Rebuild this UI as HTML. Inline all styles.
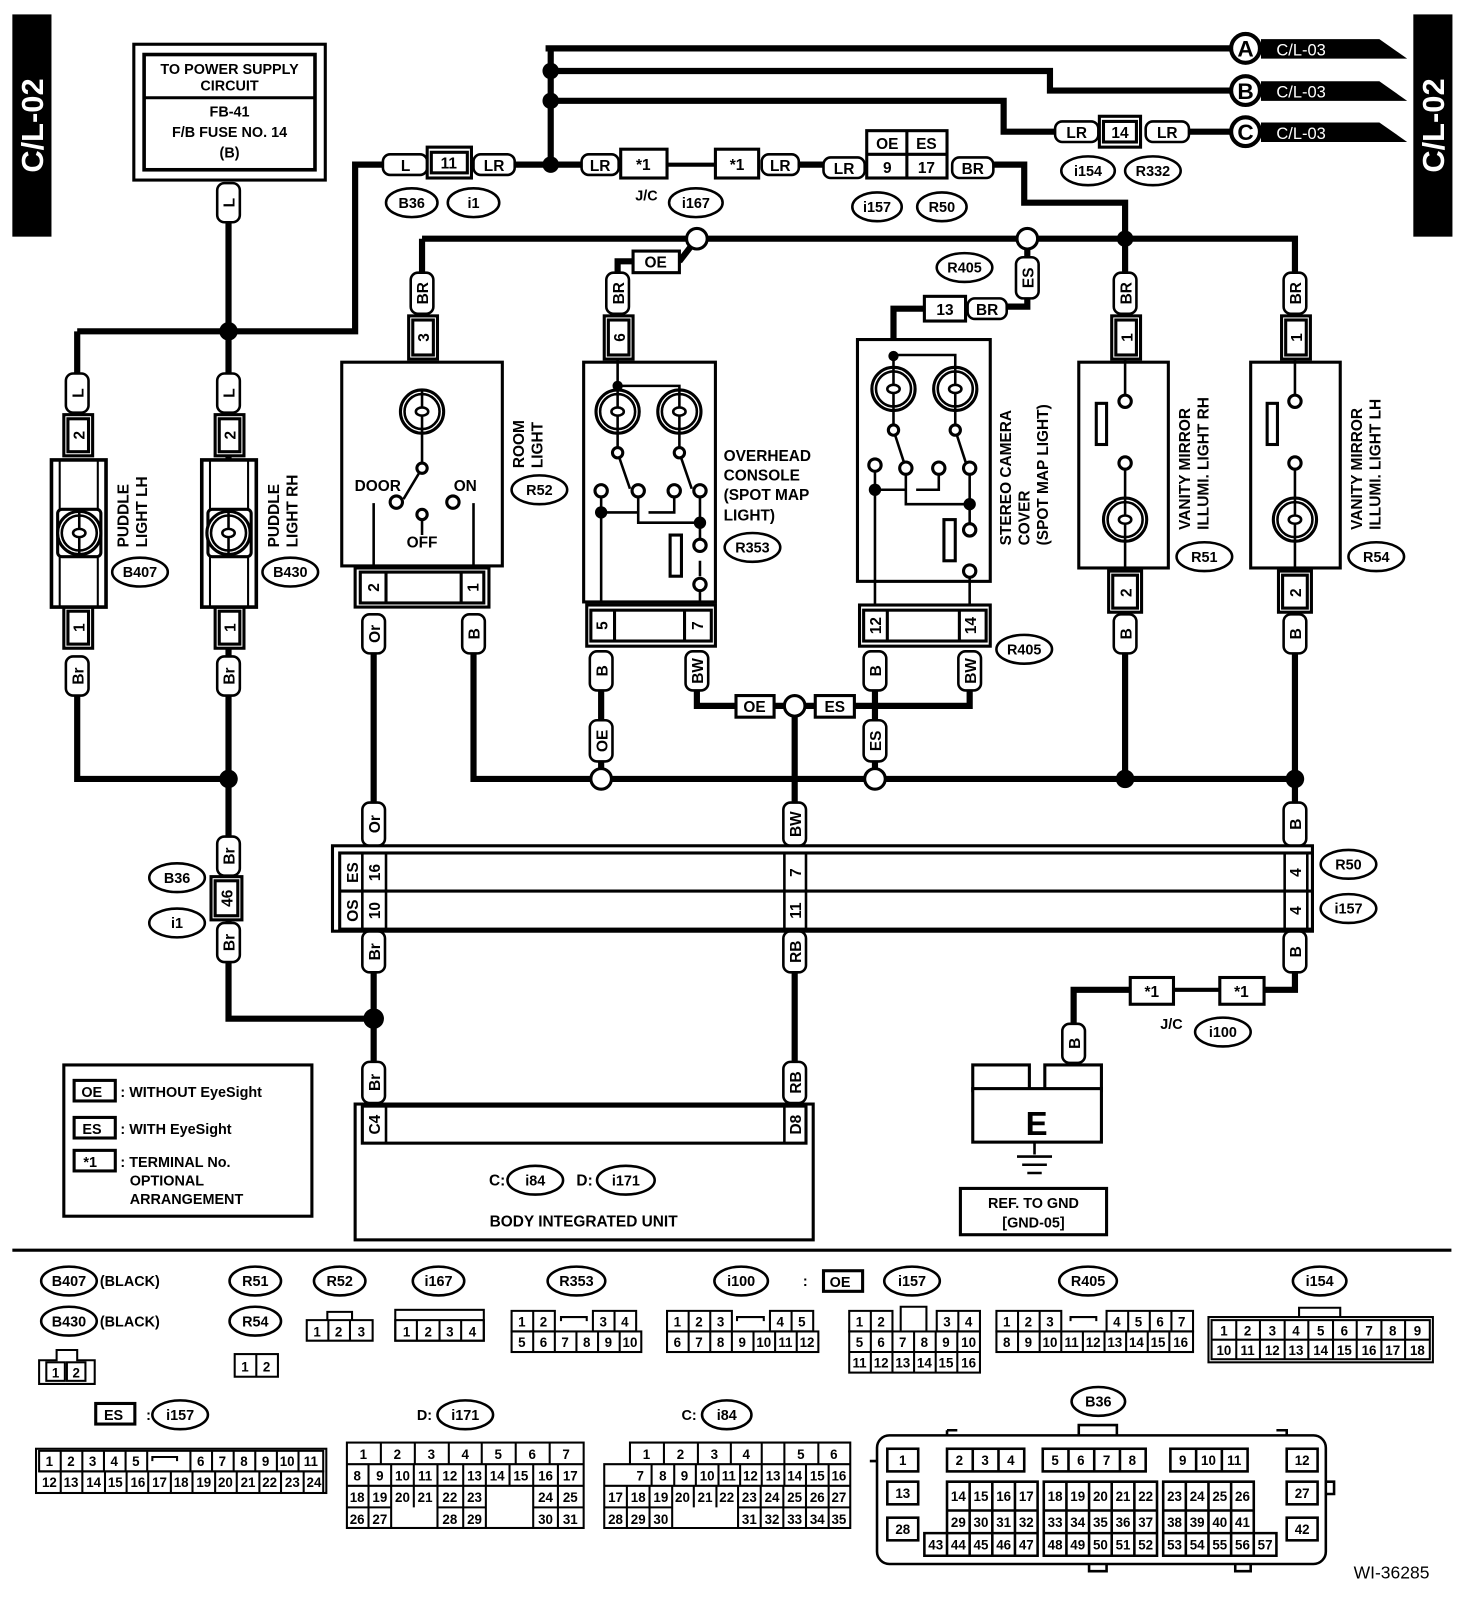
<!DOCTYPE html>
<html><head><meta charset="utf-8"><style>
html,body{margin:0;padding:0;background:#fff}
svg{display:block}
text{font-family:"Liberation Sans",sans-serif;font-weight:bold;fill:#000}
.w{stroke:#000;stroke-width:6;fill:none}
.t{stroke:#000;stroke-width:2.5;fill:none}
.p{stroke:#000;stroke-width:2.5;fill:#fff}
.b{stroke:#000;stroke-width:3;fill:#fff}
.f{font-size:15px}
.s{font-size:14px}
.n{font-size:13px;font-weight:normal}
</style></head><body>
<svg width="1472" height="1600" viewBox="0 0 1430 1555" preserveAspectRatio="none" xmlns="http://www.w3.org/2000/svg">
<defs>
<g id="lamp"><circle r="21" class="b"/><circle r="17" class="t"/><ellipse rx="6" ry="4" class="t"/><path d="M0 -21 V-4 M0 4 V21" class="t"/></g>
</defs>

<!-- side bars -->
<rect x="12" y="14" width="38" height="216" fill="#000"/>
<text transform="translate(42,122) rotate(-90)" text-anchor="middle" fill="#fff" style="fill:#fff;font-size:30px">C/L-02</text>
<rect x="1373" y="14" width="38" height="216" fill="#000"/>
<text transform="translate(1403,122) rotate(-90)" text-anchor="middle" style="fill:#fff;font-size:30px">C/L-02</text>

<!-- power box -->
<rect x="130" y="43" width="186" height="132" class="b"/>
<rect x="140" y="53" width="166" height="112" class="b" style="stroke-width:3.5"/>
<line x1="140" y1="95" x2="306" y2="95" class="b"/>
<text x="223" y="72" text-anchor="middle" class="s">TO POWER SUPPLY</text>
<text x="223" y="88" text-anchor="middle" class="s">CIRCUIT</text>
<text x="223" y="113" text-anchor="middle" class="s">FB-41</text>
<text x="223" y="133" text-anchor="middle" class="s">F/B FUSE NO. 14</text>
<text x="223" y="153" text-anchor="middle" class="s">(B)</text>

<!-- WIRES -->
<path class="w" d="M222 215 V990 M75 322 H345 V160 H372 M75 322 V365 M75 675 V757 H222 M222 935 V990 H363"/>
<path class="w" d="M500 160 H565 M535 47 V160 M530 47 H1195 M535 69 H1020 V88 H1195 M535 98 H975 V128 H1025 M1155 128 H1195"/>
<path class="w" d="M775 160 H800 M965 160 H995 V197 H1093 V232 M410 232 H1258 V265 M410 232 V265 M677 232 L660 254 M620 254 H600 V265 M998 232 V250 M998 290 V298 H978 M900 300 H868 V345 M1093 232 V265"/>
<path class="w" d="M363 635 V780 M460 635 V757 H1258 M584 670 V700 M584 740 V757 M677 670 V686 H715 M752 686 H792 M830 686 H942 V670 M850 670 V700 M850 740 V757 M772 686 V780 M1093 635 V757 M1258 635 V780"/>
<path class="w" d="M363 945 V1032 M772 945 V1032 M1258 945 V962 H1228 M1098 962 H1043 V995"/>
<path class="t" d="M648 160 H695 M1140 962 H1185" style="stroke-width:4"/>

<!-- junction dots -->
<g fill="#000"><circle cx="535" cy="69" r="8"/><circle cx="535" cy="98" r="8"/><circle cx="535" cy="160" r="8"/><circle cx="222" cy="322" r="9"/><circle cx="222" cy="757" r="9"/><circle cx="1093" cy="232" r="8"/><circle cx="1093" cy="757" r="9"/><circle cx="1258" cy="757" r="9"/><circle cx="363" cy="990" r="10"/></g>
<g class="b"><circle cx="677" cy="232" r="10"/><circle cx="998" cy="232" r="10"/><circle cx="772" cy="686" r="10"/><circle cx="584" cy="757" r="10"/><circle cx="850" cy="757" r="10"/></g>

<!-- A B C -->
<g><path d="M1225 38 H1340 L1367 57 H1225 Z M1225 79 H1340 L1367 98 H1225 Z M1225 119 H1340 L1367 138 H1225 Z" fill="#000"/>
<circle cx="1210" cy="47" r="14" class="b" style="stroke-width:4"/><circle cx="1210" cy="88" r="14" class="b" style="stroke-width:4"/><circle cx="1210" cy="128" r="14" class="b" style="stroke-width:4"/>
<text x="1210" y="55" text-anchor="middle" style="font-size:22px">A</text><text x="1210" y="96" text-anchor="middle" style="font-size:22px">B</text><text x="1210" y="136" text-anchor="middle" style="font-size:22px">C</text>
<text x="1240" y="54" style="fill:#fff;font-size:16px;font-weight:normal">C/L-03</text><text x="1240" y="95" style="fill:#fff;font-size:16px;font-weight:normal">C/L-03</text><text x="1240" y="135" style="fill:#fff;font-size:16px;font-weight:normal">C/L-03</text></g>

<!-- horizontal pills -->
<g class="p">
<rect x="372" y="150" width="43" height="20" rx="7"/><rect x="460" y="150" width="40" height="20" rx="7"/>
<rect x="565" y="150" width="36" height="20" rx="7"/><rect x="740" y="150" width="36" height="20" rx="7"/>
<rect x="800" y="153" width="40" height="20" rx="7"/><rect x="925" y="153" width="40" height="20" rx="7"/>
<rect x="1025" y="118" width="42" height="20" rx="7"/><rect x="1113" y="118" width="42" height="20" rx="7"/>
<rect x="940" y="290" width="38" height="20" rx="7"/>
</g>
<g class="b">
<rect x="415" y="143" width="43" height="30"/><rect x="419" y="148" width="35" height="20"/>
<rect x="603" y="145" width="45" height="28"/><rect x="695" y="145" width="42" height="28"/>
<rect x="842" y="127" width="78" height="46"/><line x1="842" y1="150" x2="920" y2="150"/><line x1="881" y1="127" x2="881" y2="173"/>
<rect x="1068" y="113" width="40" height="30"/><rect x="1072" y="118" width="32" height="20"/>
<rect x="615" y="244" width="45" height="21"/><rect x="898" y="288" width="40" height="24"/>
<rect x="715" y="676" width="37" height="21"/><rect x="792" y="676" width="38" height="21"/>
<rect x="1098" y="950" width="42" height="26"/><rect x="1185" y="950" width="43" height="26"/>
</g>
<g class="f" text-anchor="middle">
<text x="394" y="166">L</text><text x="436" y="164">11</text><text x="480" y="166">LR</text>
<text x="583" y="166">LR</text><text x="625" y="165">*1</text><text x="716" y="165">*1</text><text x="758" y="166">LR</text>
<text x="820" y="169">LR</text><text x="862" y="145">OE</text><text x="900" y="145">ES</text><text x="862" y="168">9</text><text x="900" y="168">17</text><text x="945" y="169">BR</text>
<text x="1046" y="134">LR</text><text x="1088" y="134">14</text><text x="1134" y="134">LR</text>
<text x="637" y="260">OE</text><text x="918" y="306">13</text><text x="959" y="306">BR</text>
<text x="733" y="692">OE</text><text x="811" y="692">ES</text>
<text x="1119" y="969">*1</text><text x="1206" y="969">*1</text>
<text x="628" y="195" class="s">J/C</text><text x="1138" y="1000" class="s">J/C</text>
</g>

<!-- vertical pills -->
<g class="p">
<rect x="211" y="178" width="22" height="38" rx="7"/>
<rect x="64" y="363" width="22" height="38" rx="7"/><rect x="211" y="363" width="22" height="38" rx="7"/>
<rect x="64" y="638" width="22" height="38" rx="7"/><rect x="211" y="638" width="22" height="38" rx="7"/>
<rect x="211" y="813" width="22" height="38" rx="7"/><rect x="211" y="897" width="22" height="38" rx="7"/>
<rect x="399" y="265" width="22" height="40" rx="7"/><rect x="589" y="265" width="22" height="40" rx="7"/>
<rect x="987" y="250" width="22" height="40" rx="7"/>
<rect x="1082" y="265" width="22" height="40" rx="7"/><rect x="1247" y="265" width="22" height="40" rx="7"/>
<rect x="352" y="597" width="22" height="38" rx="7"/><rect x="449" y="597" width="22" height="38" rx="7"/>
<rect x="573" y="633" width="22" height="38" rx="7"/><rect x="666" y="633" width="22" height="38" rx="7"/>
<rect x="839" y="633" width="22" height="38" rx="7"/><rect x="931" y="633" width="22" height="38" rx="7"/>
<rect x="573" y="700" width="22" height="40" rx="7"/><rect x="839" y="700" width="22" height="40" rx="7"/>
<rect x="1082" y="597" width="22" height="38" rx="7"/><rect x="1247" y="597" width="22" height="38" rx="7"/>
<rect x="352" y="780" width="22" height="42" rx="7"/><rect x="761" y="780" width="22" height="42" rx="7"/><rect x="1247" y="780" width="22" height="42" rx="7"/>
<rect x="352" y="905" width="22" height="40" rx="7"/><rect x="761" y="905" width="22" height="40" rx="7"/><rect x="1247" y="905" width="22" height="40" rx="7"/>
<rect x="352" y="1032" width="22" height="40" rx="7"/><rect x="761" y="1032" width="22" height="40" rx="7"/>
<rect x="1032" y="995" width="22" height="38" rx="7"/>
</g>
<g class="f" text-anchor="middle">
<text transform="translate(228,197) rotate(-90)">L</text>
<text transform="translate(81,382) rotate(-90)">L</text><text transform="translate(228,382) rotate(-90)">L</text>
<text transform="translate(81,657) rotate(-90)">Br</text><text transform="translate(228,657) rotate(-90)">Br</text>
<text transform="translate(228,832) rotate(-90)">Br</text><text transform="translate(228,916) rotate(-90)">Br</text>
<text transform="translate(416,285) rotate(-90)">BR</text><text transform="translate(606,285) rotate(-90)">BR</text>
<text transform="translate(1004,270) rotate(-90)">ES</text>
<text transform="translate(1099,285) rotate(-90)">BR</text><text transform="translate(1264,285) rotate(-90)">BR</text>
<text transform="translate(369,616) rotate(-90)">Or</text><text transform="translate(466,616) rotate(-90)">B</text>
<text transform="translate(590,652) rotate(-90)">B</text><text transform="translate(683,652) rotate(-90)">BW</text>
<text transform="translate(856,652) rotate(-90)">B</text><text transform="translate(948,652) rotate(-90)">BW</text>
<text transform="translate(590,720) rotate(-90)">OE</text><text transform="translate(856,720) rotate(-90)">ES</text>
<text transform="translate(1099,616) rotate(-90)">B</text><text transform="translate(1264,616) rotate(-90)">B</text>
<text transform="translate(369,801) rotate(-90)">Or</text><text transform="translate(778,801) rotate(-90)">BW</text><text transform="translate(1264,801) rotate(-90)">B</text>
<text transform="translate(369,925) rotate(-90)">Br</text><text transform="translate(778,925) rotate(-90)">RB</text><text transform="translate(1264,925) rotate(-90)">B</text>
<text transform="translate(369,1052) rotate(-90)">Br</text><text transform="translate(778,1052) rotate(-90)">RB</text>
<text transform="translate(1049,1014) rotate(-90)">B</text>
</g>

<!-- vertical connector boxes -->
<g class="b">
<rect x="62" y="403" width="28" height="40"/><rect x="66" y="407" width="20" height="32"/>
<rect x="209" y="403" width="28" height="40"/><rect x="213" y="407" width="20" height="32"/>
<rect x="62" y="590" width="28" height="40"/><rect x="66" y="594" width="20" height="32"/>
<rect x="209" y="590" width="28" height="40"/><rect x="213" y="594" width="20" height="32"/>
<rect x="205" y="852" width="30" height="42"/><rect x="209" y="856" width="22" height="34"/>
<rect x="397" y="307" width="28" height="42"/><rect x="401" y="311" width="20" height="34"/>
<rect x="587" y="307" width="28" height="42"/><rect x="591" y="311" width="20" height="34"/>
<rect x="1080" y="307" width="28" height="42"/><rect x="1084" y="311" width="20" height="34"/>
<rect x="1245" y="307" width="28" height="42"/><rect x="1249" y="311" width="20" height="34"/>
</g>
<g class="f" text-anchor="middle">
<text transform="translate(82,423) rotate(-90)">2</text><text transform="translate(229,423) rotate(-90)">2</text>
<text transform="translate(82,610) rotate(-90)">1</text><text transform="translate(229,610) rotate(-90)">1</text>
<text transform="translate(226,873) rotate(-90)">46</text>
<text transform="translate(417,328) rotate(-90)">3</text><text transform="translate(607,328) rotate(-90)">6</text>
<text transform="translate(1100,328) rotate(-90)">1</text><text transform="translate(1265,328) rotate(-90)">1</text>
</g>

<!-- puddle lights -->
<g class="b" style="stroke-width:3.5">
<rect x="50" y="447" width="53" height="143"/><rect x="196" y="447" width="53" height="143"/>
</g>
<path class="t" d="M58 447 V590 M95 447 V590 M204 447 V590 M241 447 V590" style="stroke-width:2"/>
<g class="b"><rect x="56" y="495" width="42" height="46" rx="4"/><rect x="202" y="495" width="42" height="46" rx="4"/></g>
<use href="#lamp" x="77" y="518"/><use href="#lamp" x="222" y="518"/>
<g class="f"><text transform="translate(125,532) rotate(-90)">PUDDLE</text><text transform="translate(143,532) rotate(-90)">LIGHT LH</text>
<text transform="translate(271,532) rotate(-90)">PUDDLE</text><text transform="translate(289,532) rotate(-90)">LIGHT RH</text></g>

<!-- room light -->
<rect x="332" y="352" width="156" height="198" class="b"/>
<use href="#lamp" x="410" y="400"/>
<path class="t" d="M410 421 V455 L392 485 M410 497 V520 M363 489 V550 M460 489 V550"/>
<g class="b"><circle cx="385" cy="488" r="6"/><circle cx="440" cy="488" r="6"/><circle cx="410" cy="500" r="5"/><circle cx="410" cy="455" r="5"/></g>
<text x="367" y="477" text-anchor="middle" class="f">DOOR</text><text x="452" y="477" text-anchor="middle" class="f">ON</text><text x="410" y="532" text-anchor="middle" class="f">OFF</text>
<g class="f"><text transform="translate(509,455) rotate(-90)">ROOM</text><text transform="translate(527,455) rotate(-90)">LIGHT</text></g>
<g class="b"><rect x="345" y="552" width="130" height="38"/><rect x="350" y="556" width="120" height="30"/><line x1="375" y1="556" x2="375" y2="586"/><line x1="448" y1="556" x2="448" y2="586"/></g>
<text transform="translate(368,571) rotate(-90)" text-anchor="middle" class="f">2</text><text transform="translate(465,571) rotate(-90)" text-anchor="middle" class="f">1</text>

<!-- overhead console -->
<rect x="567" y="352" width="128" height="233" class="b"/>
<path class="t" d="M600 349 V378 M600 375 H660 V378 M600 421 V440 L612 475 M660 421 V440 L672 475 M584 477 V585 M584 498 H620 M630 498 H655 V477 M620 477 V508 H680 V525 M680 480 V508 M680 545 V560 M680 575 V585"/>
<circle cx="600" cy="375" r="5" fill="#000"/><circle cx="584" cy="498" r="6" fill="#000"/><circle cx="680" cy="508" r="6" fill="#000"/>
<use href="#lamp" x="600" y="400"/><use href="#lamp" x="660" y="400"/>
<g class="b"><circle cx="600" cy="440" r="5"/><circle cx="660" cy="440" r="5"/><circle cx="584" cy="477" r="6"/><circle cx="620" cy="477" r="6"/><circle cx="655" cy="477" r="6"/><circle cx="680" cy="477" r="6"/><circle cx="680" cy="530" r="6"/><circle cx="680" cy="568" r="6"/><rect x="651" y="520" width="11" height="40"/></g>
<g class="f"><text x="703" y="448">OVERHEAD</text><text x="703" y="467">CONSOLE</text><text x="703" y="486">(SPOT MAP</text><text x="703" y="506"> LIGHT)</text></g>
<g class="b"><rect x="570" y="588" width="125" height="40"/><rect x="574" y="593" width="117" height="30"/><line x1="597" y1="593" x2="597" y2="623"/><line x1="665" y1="593" x2="665" y2="623"/></g>
<text transform="translate(590,608) rotate(-90)" text-anchor="middle" class="f">5</text><text transform="translate(683,608) rotate(-90)" text-anchor="middle" class="f">7</text>

<!-- stereo camera -->
<rect x="833" y="330" width="129" height="235" class="b"/>
<path class="t" d="M868 345 H928 V356 M868 356 V345 M868 400 V418 L880 455 M928 400 V418 L940 455 M850 452 V588 M850 476 H880 M890 476 H912 V455 M880 455 V490 H942 V510 M942 455 V490 M942 560 V588"/>
<circle cx="868" cy="346" r="5" fill="#000"/><circle cx="850" cy="476" r="6" fill="#000"/><circle cx="942" cy="490" r="6" fill="#000"/>
<use href="#lamp" x="868" y="378"/><use href="#lamp" x="928" y="378"/>
<g class="b"><circle cx="868" cy="418" r="5"/><circle cx="928" cy="418" r="5"/><circle cx="850" cy="452" r="6"/><circle cx="880" cy="455" r="6"/><circle cx="912" cy="455" r="6"/><circle cx="942" cy="455" r="6"/><circle cx="942" cy="515" r="6"/><circle cx="942" cy="555" r="6"/><rect x="917" y="505" width="11" height="40"/></g>
<g class="f"><text transform="translate(982,530) rotate(-90)">STEREO CAMERA</text><text transform="translate(1000,530) rotate(-90)">COVER</text><text transform="translate(1018,530) rotate(-90)">(SPOT MAP LIGHT)</text></g>
<g class="b"><rect x="835" y="588" width="127" height="40"/><rect x="839" y="593" width="119" height="30"/><line x1="862" y1="593" x2="862" y2="623"/><line x1="932" y1="593" x2="932" y2="623"/></g>
<text transform="translate(856,608) rotate(-90)" text-anchor="middle" class="f">12</text><text transform="translate(948,608) rotate(-90)" text-anchor="middle" class="f">14</text>

<!-- vanity -->
<rect x="1048" y="352" width="87" height="200" class="b"/>
<rect x="1215" y="352" width="87" height="200" class="b"/>
<path class="t" d="M1093 349 V384 M1093 455 V484 M1258 349 V384 M1258 455 V484 M1093 527 V555 M1258 527 V555"/>
<g class="b"><circle cx="1093" cy="390" r="6"/><circle cx="1093" cy="450" r="6"/><rect x="1065" y="392" width="10" height="40"/><circle cx="1258" cy="390" r="6"/><circle cx="1258" cy="450" r="6"/><rect x="1231" y="392" width="10" height="40"/></g>
<use href="#lamp" x="1093" y="505"/><use href="#lamp" x="1258" y="505"/>
<g class="f"><text transform="translate(1156,515) rotate(-90)">VANITY MIRROR</text><text transform="translate(1174,515) rotate(-90)">ILLUMI. LIGHT RH</text>
<text transform="translate(1323,515) rotate(-90)">VANITY MIRROR</text><text transform="translate(1341,515) rotate(-90)">ILLUMI. LIGHT LH</text></g>
<g class="b"><rect x="1077" y="555" width="32" height="40"/><rect x="1081" y="559" width="24" height="32"/><rect x="1242" y="555" width="32" height="40"/><rect x="1246" y="559" width="24" height="32"/></g>
<text transform="translate(1099,576) rotate(-90)" text-anchor="middle" class="f">2</text><text transform="translate(1264,576) rotate(-90)" text-anchor="middle" class="f">2</text>

<!-- big connector -->
<rect x="323" y="822" width="952" height="83" class="b"/>
<rect x="330" y="829" width="945" height="74" class="b"/>
<line x1="330" y1="866" x2="1275" y2="866" class="t" style="stroke-width:3"/>
<path class="t" d="M352 829 V903 M375 829 V903 M762 829 V903 M783 829 V903 M1248 829 V903 M1270 829 V903" style="stroke-width:2.5"/>
<g class="f" text-anchor="middle">
<text transform="translate(348,848) rotate(-90)">ES</text><text transform="translate(369,848) rotate(-90)">16</text>
<text transform="translate(348,885) rotate(-90)">OS</text><text transform="translate(369,885) rotate(-90)">10</text>
<text transform="translate(778,848) rotate(-90)">7</text><text transform="translate(778,885) rotate(-90)">11</text>
<text transform="translate(1264,848) rotate(-90)">4</text><text transform="translate(1264,885) rotate(-90)">4</text>
</g>

<!-- BIU -->
<rect x="345" y="1073" width="445" height="132" class="b"/>
<rect x="352" y="1075" width="431" height="36" class="b"/>
<path class="t" d="M375 1075 V1111 M762 1075 V1111"/>
<text transform="translate(369,1093) rotate(-90)" text-anchor="middle" class="f">C4</text>
<text transform="translate(778,1093) rotate(-90)" text-anchor="middle" class="f">D8</text>
<text x="475" y="1152" class="f">C:</text><text x="560" y="1152" class="f">D:</text>
<text x="567" y="1192" text-anchor="middle" class="f">BODY INTEGRATED UNIT</text>

<!-- ground -->
<path d="M945 1035 H1000 V1060 H945 Z M1015 1035 H1070 V1060 H1015 Z" class="b"/>
<rect x="945" y="1058" width="125" height="52" class="b"/>
<text x="1007" y="1103" text-anchor="middle" style="font-size:32px">E</text>
<path class="t" d="M1005 1110 V1122 M988 1124 H1022 M993 1132 H1017 M998 1140 H1012"/>
<rect x="933" y="1155" width="142" height="45" class="b"/>
<text x="1004" y="1174" text-anchor="middle" class="s">REF. TO GND</text><text x="1004" y="1193" text-anchor="middle" class="s">[GND-05]</text>

<!-- legend -->
<rect x="62" y="1035" width="241" height="147" class="b"/>
<g class="b"><rect x="72" y="1050" width="40" height="20"/><rect x="72" y="1086" width="40" height="20"/><rect x="72" y="1118" width="40" height="20"/></g>
<g class="s"><text x="79" y="1066">OE</text><text x="80" y="1102">ES</text><text x="81" y="1134">*1</text>
<text x="117" y="1066">: WITHOUT EyeSight</text><text x="117" y="1102">: WITH EyeSight</text><text x="117" y="1134">: TERMINAL No.</text><text x="126" y="1152">OPTIONAL</text><text x="126" y="1170">ARRANGEMENT</text></g>

<!-- ovals -->
<g class="b" style="stroke-width:2.5">
<ellipse cx="400" cy="197" rx="25" ry="14"/><ellipse cx="460" cy="197" rx="25" ry="14"/><ellipse cx="676" cy="197" rx="26" ry="14"/>
<ellipse cx="852" cy="201" rx="24" ry="14"/><ellipse cx="915" cy="201" rx="24" ry="14"/><ellipse cx="1057" cy="166" rx="26" ry="14"/><ellipse cx="1120" cy="166" rx="27" ry="14"/>
<ellipse cx="937" cy="260" rx="27" ry="14"/><ellipse cx="524" cy="476" rx="27" ry="14"/><ellipse cx="136" cy="556" rx="27" ry="14"/><ellipse cx="282" cy="556" rx="27" ry="14"/>
<ellipse cx="731" cy="532" rx="27" ry="14"/><ellipse cx="995" cy="631" rx="27" ry="14"/><ellipse cx="1170" cy="541" rx="27" ry="14"/><ellipse cx="1337" cy="541" rx="27" ry="14"/>
<ellipse cx="1310" cy="840" rx="27" ry="14"/><ellipse cx="1310" cy="883" rx="27" ry="14"/><ellipse cx="172" cy="853" rx="27" ry="14"/><ellipse cx="172" cy="897" rx="27" ry="14"/>
<ellipse cx="1188" cy="1003" rx="27" ry="14"/><ellipse cx="520" cy="1147" rx="27" ry="14"/><ellipse cx="608" cy="1147" rx="28" ry="14"/>
<ellipse cx="67" cy="1245" rx="27" ry="14"/><ellipse cx="67" cy="1284" rx="27" ry="14"/><ellipse cx="248" cy="1245" rx="25" ry="14"/><ellipse cx="248" cy="1284" rx="25" ry="14"/>
<ellipse cx="330" cy="1245" rx="25" ry="14"/><ellipse cx="426" cy="1245" rx="25" ry="14"/><ellipse cx="560" cy="1245" rx="28" ry="14"/><ellipse cx="720" cy="1245" rx="26" ry="14"/>
<ellipse cx="886" cy="1245" rx="27" ry="14"/><ellipse cx="1057" cy="1245" rx="28" ry="14"/><ellipse cx="1282" cy="1245" rx="26" ry="14"/>
<ellipse cx="175" cy="1375" rx="27" ry="14"/><ellipse cx="452" cy="1375" rx="27" ry="14"/><ellipse cx="706" cy="1375" rx="24" ry="14"/><ellipse cx="1067" cy="1362" rx="26" ry="14"/>
</g>
<g class="s" text-anchor="middle">
<text x="400" y="202">B36</text><text x="460" y="202">i1</text><text x="676" y="202">i167</text><text x="852" y="206">i157</text><text x="915" y="206">R50</text><text x="1057" y="171">i154</text><text x="1120" y="171">R332</text>
<text x="937" y="265">R405</text><text x="524" y="481">R52</text><text x="136" y="561">B407</text><text x="282" y="561">B430</text><text x="731" y="537">R353</text><text x="995" y="636">R405</text>
<text x="1170" y="546">R51</text><text x="1337" y="546">R54</text><text x="1310" y="845">R50</text><text x="1310" y="888">i157</text><text x="172" y="858">B36</text><text x="172" y="902">i1</text>
<text x="1188" y="1008">i100</text><text x="520" y="1152">i84</text><text x="608" y="1152">i171</text>
<text x="67" y="1250">B407</text><text x="67" y="1289">B430</text><text x="248" y="1250">R51</text><text x="248" y="1289">R54</text><text x="330" y="1250">R52</text><text x="426" y="1250">i167</text>
<text x="560" y="1250">R353</text><text x="720" y="1250">i100</text><text x="886" y="1250">i157</text><text x="1057" y="1250">R405</text><text x="1282" y="1250">i154</text>
<text x="175" y="1380">i157</text><text x="452" y="1380">i171</text><text x="706" y="1380">i84</text><text x="1067" y="1367">B36</text>
</g>

<!-- separator -->
<line x1="12" y1="1215" x2="1410" y2="1215" stroke="#000" stroke-width="3"/>

<!-- bottom connectors -->
<g class="s"><text x="97" y="1250">(BLACK)</text><text x="97" y="1289">(BLACK)</text>
<text x="780" y="1250">:</text><text x="142" y="1380">:</text><text x="405" y="1380">D:</text><text x="662" y="1380">C:</text></g>
<g class="b"><rect x="800" y="1235" width="38" height="20"/><rect x="93" y="1364" width="38" height="20"/></g>
<g class="s"><text x="806" y="1251">OE</text><text x="101" y="1380">ES</text></g>

<g class="t" style="stroke-width:2">
<!-- B407 -->
<path d="M38 1322 H55 V1312 H75 V1322 H92 V1345 H38 Z"/><rect x="45" y="1324" width="18" height="18"/><rect x="65" y="1324" width="18" height="18"/>
<rect x="228" y="1316" width="42" height="22"/><line x1="249" y1="1316" x2="249" y2="1338"/>
<path d="M298 1283 H362 V1303 H298 Z M318 1283 V1275 H342 V1283"/><line x1="319" y1="1283" x2="319" y2="1303"/><line x1="340" y1="1283" x2="340" y2="1303"/>
<rect x="384" y="1273" width="86" height="30"/><rect x="384" y="1283" width="86" height="20"/><path d="M405 1283 V1303 M427 1283 V1303 M448 1283 V1303"/>
</g>
<g class="n" text-anchor="middle"><text x="54" y="1339">1</text><text x="74" y="1339">2</text><text x="238" y="1333">1</text><text x="259" y="1333">2</text>
<text x="308" y="1299">1</text><text x="329" y="1299">2</text><text x="351" y="1299">3</text>
<text x="395" y="1299">1</text><text x="416" y="1299">2</text><text x="437" y="1299">3</text><text x="459" y="1299">4</text></g>

<!-- grid cells via rects -->
<g class="t" style="stroke-width:2">
<!-- R353 -->
<path d="M497 1274 H539 V1294 H497 Z M518 1274 V1294 M576 1274 H618 V1294 H576 Z M597 1274 V1294 M545 1284 V1280 H570 V1284"/>
<rect x="497" y="1294" width="126" height="20"/><path d="M518 1294 V1314 M539 1294 V1314 M560 1294 V1314 M581 1294 V1314 M602 1294 V1314"/>
<!-- i100 -->
<path d="M648 1274 H711 V1294 H648 Z M669 1274 V1294 M690 1274 V1294 M748 1274 H790 V1294 H748 Z M769 1274 V1294 M716 1284 V1280 H742 V1284"/>
<rect x="648" y="1294" width="147" height="20"/><path d="M669 1294 V1314 M690 1294 V1314 M711 1294 V1314 M732 1294 V1314 M753 1294 V1314 M774 1294 V1314"/>
<!-- OE i157 -->
<path d="M825 1274 H867 V1294 H825 Z M846 1274 V1294 M910 1274 H952 V1294 H910 Z M931 1274 V1294 M875 1294 V1270 H900 V1294"/>
<rect x="825" y="1294" width="127" height="40"/><path d="M825 1314 H952 M846 1294 V1334 M867 1294 V1334 M888 1294 V1334 M909 1294 V1334 M930 1294 V1334"/>
<!-- R405 -->
<path d="M968 1274 H1031 V1294 H968 Z M989 1274 V1294 M1010 1274 V1294 M1075 1274 H1159 V1294 H1075 Z M1096 1274 V1294 M1117 1274 V1294 M1138 1274 V1294 M1040 1284 V1280 H1065 V1284"/>
<rect x="968" y="1294" width="191" height="20"/><path d="M989 1294 V1314 M1010 1294 V1314 M1031 1294 V1314 M1052 1294 V1314 M1073 1294 V1314 M1094 1294 V1314 M1115 1294 V1314 M1136 1294 V1314"/>
<!-- i154 -->
<rect x="1174" y="1280" width="218" height="44"/><path d="M1262 1280 V1271 H1302 V1280"/>
<rect x="1177" y="1283" width="212" height="38"/><path d="M1177 1302 H1389 M1201 1283 V1321 M1224 1283 V1321 M1248 1283 V1321 M1271 1283 V1321 M1295 1283 V1321 M1318 1283 V1321 M1342 1283 V1321 M1365 1283 V1321"/>
<!-- ES i157 -->
<rect x="35" y="1408" width="282" height="43"/><rect x="38" y="1410" width="276" height="20"/><path d="M38 1430 H314 V1450"/>
<path d="M59 1410 V1430 M80 1410 V1430 M101 1410 V1430 M122 1410 V1430 M143 1410 V1430 M185 1410 V1430 M206 1410 V1430 M227 1410 V1430 M248 1410 V1430 M269 1410 V1430 M290 1410 V1430 M148 1420 V1416 H172 V1420"/>
<path d="M59 1430 V1450 M80 1430 V1450 M102 1430 V1450 M123 1430 V1450 M144 1430 V1450 M166 1430 V1450 M187 1430 V1450 M209 1430 V1450 M230 1430 V1450 M252 1430 V1450 M273 1430 V1450 M295 1430 V1450"/>
<!-- i171 -->
<rect x="337" y="1402" width="230" height="83"/><path d="M337 1423 H567 M337 1444 H567 M337 1465 H380 M425 1465 H472 M518 1465 H567"/>
<path d="M370 1402 V1423 M403 1402 V1423 M436 1402 V1423 M468 1402 V1423 M501 1402 V1423 M534 1402 V1423"/>
<path d="M358 1423 V1485 M380 1423 V1485 M402 1423 V1465 M425 1423 V1485 M450 1423 V1485 M472 1423 V1485 M495 1423 V1444 M518 1423 V1485 M542 1423 V1485"/>
<!-- i84 -->
<path d="M612 1402 H826 V1485 H587 V1423 H612 Z M587 1423 H826 M587 1444 H826 M587 1465 H653 M717 1465 H826"/>
<path d="M645 1402 V1423 M678 1402 V1423 M710 1402 V1423 M740 1402 V1423 M762 1402 V1423 M795 1402 V1423"/>
<path d="M633 1423 V1444 M655 1423 V1444 M676 1423 V1444 M698 1423 V1444 M719 1423 V1444 M740 1423 V1444 M762 1423 V1444 M783 1423 V1444 M805 1423 V1444"/>
<path d="M609 1444 V1485 M631 1444 V1485 M653 1444 V1485 M674 1444 V1465 M696 1444 V1465 M717 1444 V1485 M739 1444 V1485 M761 1444 V1485 M783 1444 V1485 M805 1444 V1485"/>
</g>
<g class="n" text-anchor="middle">
<text x="507" y="1289">1</text><text x="528" y="1289">2</text><text x="586" y="1289">3</text><text x="607" y="1289">4</text>
<text x="507" y="1309">5</text><text x="528" y="1309">6</text><text x="549" y="1309">7</text><text x="570" y="1309">8</text><text x="591" y="1309">9</text><text x="612" y="1309">10</text>
<text x="658" y="1289">1</text><text x="679" y="1289">2</text><text x="700" y="1289">3</text><text x="758" y="1289">4</text><text x="779" y="1289">5</text>
<text x="658" y="1309">6</text><text x="679" y="1309">7</text><text x="700" y="1309">8</text><text x="721" y="1309">9</text><text x="742" y="1309">10</text><text x="763" y="1309">11</text><text x="784" y="1309">12</text>
<text x="835" y="1289">1</text><text x="856" y="1289">2</text><text x="920" y="1289">3</text><text x="941" y="1289">4</text>
<text x="835" y="1309">5</text><text x="856" y="1309">6</text><text x="877" y="1309">7</text><text x="898" y="1309">8</text><text x="919" y="1309">9</text><text x="941" y="1309">10</text>
<text x="835" y="1329">11</text><text x="856" y="1329">12</text><text x="877" y="1329">13</text><text x="898" y="1329">14</text><text x="919" y="1329">15</text><text x="941" y="1329">16</text>
<text x="978" y="1289">1</text><text x="999" y="1289">2</text><text x="1020" y="1289">3</text><text x="1085" y="1289">4</text><text x="1106" y="1289">5</text><text x="1127" y="1289">6</text><text x="1148" y="1289">7</text>
<text x="978" y="1309">8</text><text x="999" y="1309">9</text><text x="1020" y="1309">10</text><text x="1041" y="1309">11</text><text x="1062" y="1309">12</text><text x="1083" y="1309">13</text><text x="1104" y="1309">14</text><text x="1125" y="1309">15</text><text x="1147" y="1309">16</text>
<text x="1189" y="1298">1</text><text x="1212" y="1298">2</text><text x="1236" y="1298">3</text><text x="1259" y="1298">4</text><text x="1283" y="1298">5</text><text x="1306" y="1298">6</text><text x="1330" y="1298">7</text><text x="1353" y="1298">8</text><text x="1377" y="1298">9</text>
<text x="1189" y="1317">10</text><text x="1212" y="1317">11</text><text x="1236" y="1317">12</text><text x="1259" y="1317">13</text><text x="1283" y="1317">14</text><text x="1306" y="1317">15</text><text x="1330" y="1317">16</text><text x="1353" y="1317">17</text><text x="1377" y="1317">18</text>
<text x="48" y="1425">1</text><text x="69" y="1425">2</text><text x="90" y="1425">3</text><text x="111" y="1425">4</text><text x="132" y="1425">5</text><text x="195" y="1425">6</text><text x="216" y="1425">7</text><text x="237" y="1425">8</text><text x="258" y="1425">9</text><text x="279" y="1425">10</text><text x="302" y="1425">11</text>
<text x="48" y="1445">12</text><text x="69" y="1445">13</text><text x="91" y="1445">14</text><text x="112" y="1445">15</text><text x="134" y="1445">16</text><text x="155" y="1445">17</text><text x="176" y="1445">18</text><text x="198" y="1445">19</text><text x="219" y="1445">20</text><text x="241" y="1445">21</text><text x="262" y="1445">22</text><text x="284" y="1445">23</text><text x="305" y="1445">24</text>
<text x="353" y="1418">1</text><text x="386" y="1418">2</text><text x="419" y="1418">3</text><text x="452" y="1418">4</text><text x="484" y="1418">5</text><text x="517" y="1418">6</text><text x="550" y="1418">7</text>
<text x="347" y="1439">8</text><text x="369" y="1439">9</text><text x="391" y="1439">10</text><text x="413" y="1439">11</text><text x="437" y="1439">12</text><text x="461" y="1439">13</text><text x="483" y="1439">14</text><text x="506" y="1439">15</text><text x="530" y="1439">16</text><text x="554" y="1439">17</text>
<text x="347" y="1460">18</text><text x="369" y="1460">19</text><text x="391" y="1460">20</text><text x="413" y="1460">21</text><text x="437" y="1460">22</text><text x="461" y="1460">23</text><text x="530" y="1460">24</text><text x="554" y="1460">25</text>
<text x="347" y="1481">26</text><text x="369" y="1481">27</text><text x="437" y="1481">28</text><text x="461" y="1481">29</text><text x="530" y="1481">30</text><text x="554" y="1481">31</text>
<text x="628" y="1418">1</text><text x="661" y="1418">2</text><text x="694" y="1418">3</text><text x="725" y="1418">4</text><text x="778" y="1418">5</text><text x="810" y="1418">6</text>
<text x="622" y="1439">7</text><text x="644" y="1439">8</text><text x="665" y="1439">9</text><text x="687" y="1439">10</text><text x="708" y="1439">11</text><text x="729" y="1439">12</text><text x="751" y="1439">13</text><text x="772" y="1439">14</text><text x="794" y="1439">15</text><text x="815" y="1439">16</text>
<text x="598" y="1460">17</text><text x="620" y="1460">18</text><text x="642" y="1460">19</text><text x="663" y="1460">20</text><text x="685" y="1460">21</text><text x="706" y="1460">22</text><text x="728" y="1460">23</text><text x="750" y="1460">24</text><text x="772" y="1460">25</text><text x="794" y="1460">26</text><text x="815" y="1460">27</text>
<text x="598" y="1481">28</text><text x="620" y="1481">29</text><text x="642" y="1481">30</text><text x="728" y="1481">31</text><text x="750" y="1481">32</text><text x="772" y="1481">33</text><text x="794" y="1481">34</text><text x="815" y="1481">35</text>
</g>

<!-- B36 -->
<g class="t" style="stroke-width:2.5">
<rect x="852" y="1395" width="436" height="125" rx="12"/>
<path d="M920 1390 V1395 M930 1390 H920 M1048 1395 V1385 H1085 V1395 M1240 1390 H1250 V1395 M845 1420 H852 M1288 1440 H1296 V1452 H1288 M1058 1520 V1527 H1075 V1520 M1200 1520 V1527 H1215 V1520"/>
<rect x="862" y="1408" width="30" height="22"/><rect x="862" y="1440" width="30" height="22"/><rect x="862" y="1475" width="30" height="22"/>
<rect x="1250" y="1408" width="30" height="22"/><rect x="1250" y="1440" width="30" height="22"/><rect x="1250" y="1475" width="30" height="22"/>
<rect x="920" y="1408" width="75" height="22"/><path d="M945 1408 V1430 M970 1408 V1430"/>
<rect x="1013" y="1408" width="100" height="22"/><path d="M1038 1408 V1430 M1063 1408 V1430 M1088 1408 V1430"/>
<rect x="1137" y="1408" width="75" height="22"/><path d="M1162 1408 V1430 M1187 1408 V1430"/>
<path d="M920 1440 H1008 V1512 H898 V1490 H920 Z M920 1468 H1008 M920 1490 H1008 M942 1440 V1512 M964 1440 V1512 M986 1440 V1512 M920 1490 V1512"/>
<path d="M1014 1440 H1124 V1512 H1014 Z M1014 1468 H1124 M1014 1490 H1124 M1036 1440 V1512 M1058 1440 V1512 M1080 1440 V1512 M1102 1440 V1512"/>
<path d="M1130 1440 H1218 V1490 H1240 V1512 H1130 Z M1130 1468 H1218 M1130 1490 H1218 M1152 1440 V1512 M1174 1440 V1512 M1196 1440 V1512 M1218 1490 V1512"/>
</g>
<g class="n" text-anchor="middle">
<text x="877" y="1424">1</text><text x="877" y="1456">13</text><text x="877" y="1491">28</text><text x="1265" y="1424">12</text><text x="1265" y="1456">27</text><text x="1265" y="1491">42</text>
<text x="932" y="1424">2</text><text x="957" y="1424">3</text><text x="982" y="1424">4</text><text x="1025" y="1424">5</text><text x="1050" y="1424">6</text><text x="1075" y="1424">7</text><text x="1100" y="1424">8</text><text x="1149" y="1424">9</text><text x="1174" y="1424">10</text><text x="1199" y="1424">11</text>
<text x="931" y="1459">14</text><text x="953" y="1459">15</text><text x="975" y="1459">16</text><text x="997" y="1459">17</text><text x="1025" y="1459">18</text><text x="1047" y="1459">19</text><text x="1069" y="1459">20</text><text x="1091" y="1459">21</text><text x="1113" y="1459">22</text><text x="1141" y="1459">23</text><text x="1163" y="1459">24</text><text x="1185" y="1459">25</text><text x="1207" y="1459">26</text>
<text x="931" y="1484">29</text><text x="953" y="1484">30</text><text x="975" y="1484">31</text><text x="997" y="1484">32</text><text x="1025" y="1484">33</text><text x="1047" y="1484">34</text><text x="1069" y="1484">35</text><text x="1091" y="1484">36</text><text x="1113" y="1484">37</text><text x="1141" y="1484">38</text><text x="1163" y="1484">39</text><text x="1185" y="1484">40</text><text x="1207" y="1484">41</text>
<text x="909" y="1506">43</text><text x="931" y="1506">44</text><text x="953" y="1506">45</text><text x="975" y="1506">46</text><text x="997" y="1506">47</text><text x="1025" y="1506">48</text><text x="1047" y="1506">49</text><text x="1069" y="1506">50</text><text x="1091" y="1506">51</text><text x="1113" y="1506">52</text><text x="1141" y="1506">53</text><text x="1163" y="1506">54</text><text x="1185" y="1506">55</text><text x="1207" y="1506">56</text><text x="1229" y="1506">57</text>
</g>

<text x="1315" y="1534" style="font-size:17px;font-weight:normal">WI-36285</text>
</svg>
</body></html>
